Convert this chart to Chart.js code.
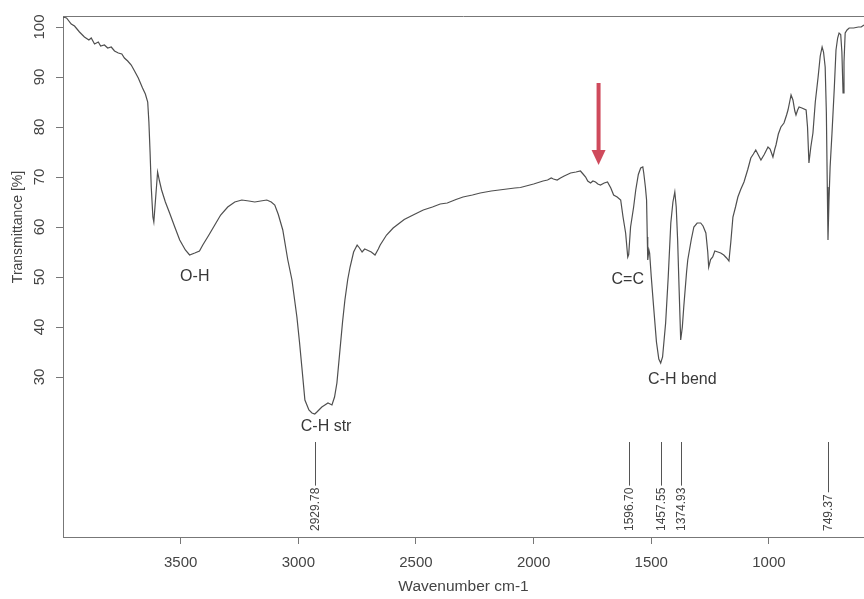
<!DOCTYPE html>
<html>
<head>
<meta charset="utf-8">
<script src="https://cdn.jsdelivr.net/npm/chart.js@4.4.0/dist/chart.umd.min.js"></script>
<style>
  html, body { margin: 0; padding: 0; background: #fff; }
</style>
</head>
<body>
<canvas id="irChart" width="864" height="599"></canvas>
<script>
// FTIR spectrum
var wavenumber = [
  4000, 3985, 3965, 3951, 3930, 3909, 3890, 3880, 3866, 3850, 3840, 3824, 3810, 3795, 3781, 3765,
  3750, 3739, 3725, 3710, 3696, 3680, 3662, 3650, 3640, 3635, 3630, 3625, 3618, 3614, 3606, 3598,
  3590, 3581, 3565, 3547, 3525, 3504, 3480, 3462, 3440, 3420, 3406, 3380, 3355, 3330, 3300, 3270,
  3240, 3210, 3185, 3160, 3134, 3115, 3100, 3085, 3066, 3045, 3027, 3006, 2995, 2985, 2972, 2955,
  2942, 2930, 2921, 2900, 2887, 2874, 2865, 2857, 2846, 2836, 2823, 2812, 2802, 2790, 2780, 2765,
  2750, 2740, 2729, 2718, 2708, 2690, 2674, 2660, 2652, 2625, 2597, 2550, 2512, 2469, 2430, 2397,
  2367, 2330, 2300, 2260, 2227, 2180, 2130, 2080, 2056, 2000, 1960, 1941, 1925, 1916, 1900, 1886,
  1870, 1843, 1820, 1801, 1790, 1779, 1770, 1758, 1748, 1737, 1727, 1716, 1700, 1686, 1672, 1660,
  1645, 1630, 1620, 1609, 1600, 1596, 1588, 1575, 1566, 1555, 1545, 1536, 1532, 1525, 1520, 1517,
  1515, 1510, 1507, 1500, 1490, 1478, 1468, 1460, 1452, 1439, 1428, 1417, 1408, 1400, 1394, 1388,
  1382, 1375, 1368, 1362, 1350, 1345, 1330, 1319, 1305, 1290, 1280, 1268, 1260, 1256, 1248, 1239,
  1230, 1217, 1205, 1192, 1180, 1170, 1162, 1153, 1142, 1132, 1120, 1106, 1090, 1077, 1066, 1056,
  1045, 1034, 1020, 1004, 995, 983, 975, 970, 960, 949, 936, 925, 919, 912, 906, 898,
  890, 885, 878, 872, 860, 842, 836, 830, 822, 813, 803, 791, 782, 774, 768, 761,
  756, 752, 749, 745, 740, 732, 722, 715, 708, 702, 695, 690, 685, 681, 676, 668,
  659, 640, 620, 608, 596
];
var transmittance = [
  102, 101.8, 100.6, 100.2, 99, 98, 97.4, 97.8, 96.6, 97, 96.2, 96.4, 95.8, 96, 95.2, 94.8,
  94.6, 93.8, 93.2, 92.4, 91.2, 89.8, 87.8, 86.6, 85, 81, 75, 68, 62, 61, 66, 71,
  69.2, 67.4, 65, 62.8, 60, 57.4, 55.4, 54.4, 54.8, 55.2, 56.4, 58.4, 60.4, 62.4, 64, 65,
  65.4, 65.2, 65, 65.2, 65.4, 65, 64.4, 62.5, 59.4, 53.5, 49.4, 42, 37, 32, 25.4, 23.4,
  22.8, 22.6, 23, 24, 24.4, 24.8, 24.6, 24.4, 26, 28.8, 35.4, 41, 45.4, 49.5, 52, 55,
  56.4, 55.8, 55, 55.6, 55.4, 55, 54.4, 55.6, 56.4, 58.4, 59.8, 61.5, 62.4, 63.4, 64, 64.6,
  64.8, 65.5, 66, 66.4, 66.8, 67.2, 67.5, 67.8, 67.9, 68.6, 69.2, 69.4, 69.8, 69.6, 69.4, 69.8,
  70.2, 70.8, 71, 71.2, 70.6, 70, 69.2, 68.8, 69.2, 69, 68.6, 68.4, 68.8, 69, 67.8, 66.4,
  66, 65.4, 62, 58.8, 54, 54.5, 60, 64, 67.4, 70.5, 71.8, 72, 70.8, 68, 65.4, 58,
  53.4, 55.4, 54.8, 50, 44, 37, 33.6, 32.8, 34, 40.8, 50, 60.8, 65, 67, 64, 57.4,
  48, 37.4, 40, 44, 51, 53.4, 57.5, 60, 60.8, 60.8, 60.2, 58.8, 55, 52, 53.5, 54,
  55.2, 55, 54.8, 54.4, 53.8, 53.2, 57, 62, 64, 66, 67.5, 69, 71.5, 73.8, 74.6, 75.4,
  74.4, 73.4, 74.5, 76, 75.6, 74, 75.6, 76.4, 78.6, 80, 80.8, 82.4, 83.4, 85, 86.4, 85.4,
  83.2, 82.4, 83.4, 84, 83.8, 83.4, 80, 72.8, 76, 78.8, 85, 90, 94.2, 96, 95, 92,
  83, 68, 57.4, 65, 72, 78.8, 88, 95.4, 97.8, 98.8, 98.5, 95, 86.8, 93, 98.8, 99.4,
  99.8, 99.8, 100, 100, 100.4
];

var xTicks = [3500, 3000, 2500, 2000, 1500, 1000];
var yTicks = [30, 40, 50, 60, 70, 80, 90, 100];

// labelled peaks
var peakPositions = [2929.78, 1596.70, 1457.55, 1374.93, 749.37];
var peakLabels = ['2929.78', '1596.70', '1457.55', '1374.93', '749.37'];

// band names (wavenumber, transmittance where they sit)
var bandLabels = ['O-H', 'C-H str', 'C=C', 'C-H bend'];
var bandWavenumber = [3440, 2882, 1600, 1368];
var bandTransmittance = [50, 20, 49.4, 29.4];

// red arrow
var arrowWavenumber = 1724;
var arrowTop = 88.8;
var arrowTip = 72.4;

var points = wavenumber.map(function (w, i) {
  return { x: w, y: transmittance[i] };
});

var FONT = '"Liberation Sans", Arial, sans-serif';

var extras = {
  id: 'extras',
  afterDatasetsDraw: function (chart) {
    var ctx = chart.ctx;
    var xs = chart.scales.x;
    var ys = chart.scales.y;
    var area = chart.chartArea;
    ctx.save();

    // top side of the box
    ctx.strokeStyle = '#777';
    ctx.lineWidth = 1;
    ctx.beginPath();
    ctx.moveTo(area.left, area.top + 0.5);
    ctx.lineTo(area.right, area.top + 0.5);
    ctx.stroke();

    // y tick labels, turned like the original
    ctx.fillStyle = '#444';
    ctx.font = '15px ' + FONT;
    ctx.textAlign = 'center';
    ctx.textBaseline = 'middle';
    yTicks.forEach(function (v) {
      ctx.save();
      ctx.translate(40, ys.getPixelForValue(v));
      ctx.rotate(-Math.PI / 2);
      ctx.fillText(String(v), 0, 0);
      ctx.restore();
    });

    // y title
    ctx.save();
    ctx.translate(18, 227);
    ctx.rotate(-Math.PI / 2);
    ctx.font = '14px ' + FONT;
    ctx.fillText('Transmittance [%]', 0, 0);
    ctx.restore();

    // band names
    ctx.fillStyle = '#383838';
    ctx.font = '16px ' + FONT;
    bandLabels.forEach(function (t, i) {
      ctx.fillText(t, xs.getPixelForValue(bandWavenumber[i]), ys.getPixelForValue(bandTransmittance[i]));
    });

    // peak markers + numbers
    ctx.font = '12px ' + FONT;
    ctx.strokeStyle = '#555';
    var base = ys.getPixelForValue(-0.8);
    var lineTop = ys.getPixelForValue(17);
    peakPositions.forEach(function (p, i) {
      var px = Math.round(xs.getPixelForValue(p)) + 0.5;
      var w = ctx.measureText(peakLabels[i]).width;
      ctx.beginPath();
      ctx.moveTo(px, lineTop);
      ctx.lineTo(px, base - w - 2);
      ctx.stroke();
      ctx.save();
      ctx.translate(px, base);
      ctx.rotate(-Math.PI / 2);
      ctx.textAlign = 'left';
      ctx.fillStyle = '#444';
      ctx.fillText(peakLabels[i], 0, 0);
      ctx.restore();
    });

    // red arrow
    var ax = xs.getPixelForValue(arrowWavenumber);
    var ay0 = ys.getPixelForValue(arrowTop);
    var ay1 = ys.getPixelForValue(arrowTip);
    ctx.strokeStyle = '#cf4a5c';
    ctx.fillStyle = '#cf4a5c';
    ctx.lineWidth = 4;
    ctx.beginPath();
    ctx.moveTo(ax, ay0);
    ctx.lineTo(ax, ay1 - 12);
    ctx.stroke();
    ctx.beginPath();
    ctx.moveTo(ax - 7, ay1 - 15);
    ctx.lineTo(ax + 7, ay1 - 15);
    ctx.lineTo(ax, ay1);
    ctx.closePath();
    ctx.fill();

    ctx.restore();
  }
};

var chart = new Chart(document.getElementById('irChart'), {
  type: 'line',
  data: {
    datasets: [{
      data: points,
      borderColor: '#4f4f4f',
      borderWidth: 1.2,
      pointRadius: 0,
      tension: 0,
      fill: false
    }]
  },
  options: {
    responsive: false,
    animation: false,
    layout: { padding: { top: 16, right: 0, left: 0, bottom: 0 } },
    plugins: { legend: { display: false }, tooltip: { enabled: false } },
    scales: {
      x: {
        type: 'linear',
        reverse: true,
        min: 596,
        max: 4000,
        afterBuildTicks: function (s) { s.ticks = xTicks.map(function (v) { return { value: v }; }); },
        afterFit: function (s) { s.height = 62; },
        grid: { drawOnChartArea: false, tickLength: 7, color: '#777' },
        border: { color: '#777', width: 1 },
        ticks: {
          color: '#444',
          font: { family: FONT, size: 15 },
          padding: 10,
          maxRotation: 0,
          autoSkip: false,
          callback: function (v) { return String(v); }
        },
        title: {
          display: true,
          text: 'Wavenumber cm-1',
          color: '#444',
          font: { family: FONT, size: 15.5 },
          padding: { top: 0, bottom: 3 }
        }
      },
      y: {
        min: -2,
        max: 102.2,
        afterBuildTicks: function (s) { s.ticks = yTicks.map(function (v) { return { value: v }; }); },
        afterFit: function (s) { s.width = 63; },
        grid: { drawOnChartArea: false, tickLength: 7, color: '#777' },
        border: { color: '#777', width: 1 },
        ticks: { display: false }
      }
    }
  },
  plugins: [extras]
});
</script>
</body>
</html>
